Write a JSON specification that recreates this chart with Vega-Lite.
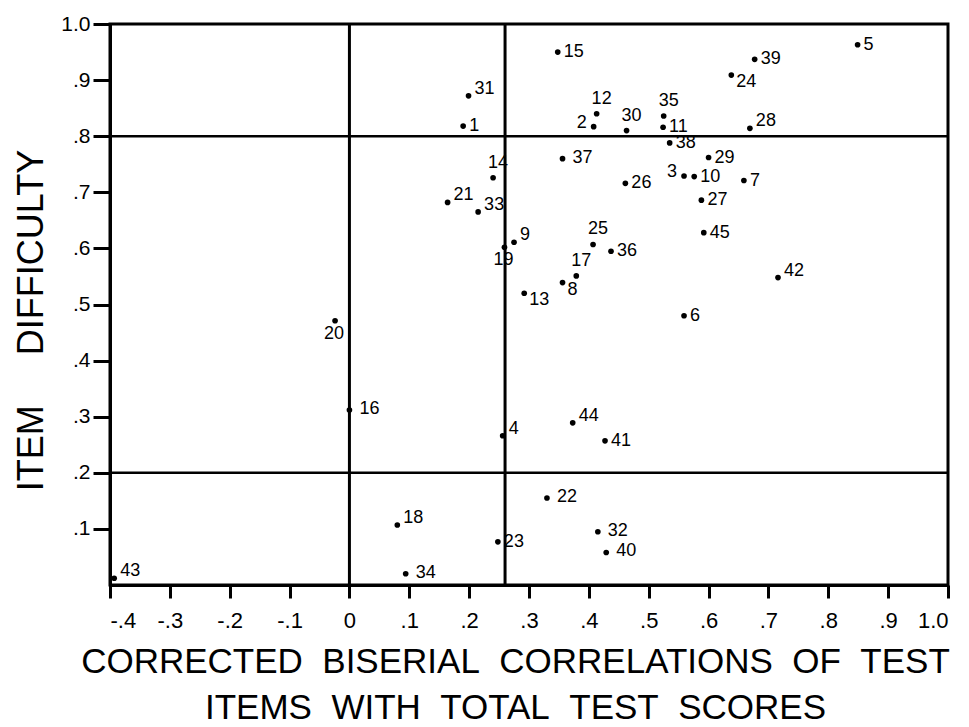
{
  "$schema": "https://vega.github.io/schema/vega-lite/v6.json",
  "width": 838,
  "height": 561,
  "autosize": "none",
  "padding": {"left": 110, "top": 24, "right": 21, "bottom": 142},
  "background": "white",
  "config": {
    "view": {"stroke": "black", "strokeWidth": 3},
    "font": "Liberation Sans",
    "axis": {"grid": false, "domainColor": "black", "domainWidth": 3, "tickColor": "black", "tickWidth": 3, "labelColor": "black", "titleColor": "black", "labelFont": "Liberation Sans", "titleFont": "Liberation Sans", "titleFontWeight": "normal"}
  },
  "datasets": {
    "items": [
      {"item": 1, "r": 0.190, "p": 0.818},
      {"item": 2, "r": 0.408, "p": 0.817},
      {"item": 3, "r": 0.559, "p": 0.729},
      {"item": 4, "r": 0.256, "p": 0.266},
      {"item": 5, "r": 0.849, "p": 0.963},
      {"item": 6, "r": 0.559, "p": 0.480},
      {"item": 7, "r": 0.659, "p": 0.721},
      {"item": 8, "r": 0.356, "p": 0.539},
      {"item": 9, "r": 0.275, "p": 0.611},
      {"item": 10, "r": 0.576, "p": 0.728},
      {"item": 11, "r": 0.524, "p": 0.816},
      {"item": 12, "r": 0.413, "p": 0.840},
      {"item": 13, "r": 0.292, "p": 0.520},
      {"item": 14, "r": 0.240, "p": 0.726},
      {"item": 15, "r": 0.348, "p": 0.950},
      {"item": 16, "r": 0.000, "p": 0.312},
      {"item": 17, "r": 0.379, "p": 0.551},
      {"item": 18, "r": 0.080, "p": 0.107},
      {"item": 19, "r": 0.259, "p": 0.602},
      {"item": 20, "r": -0.024, "p": 0.471},
      {"item": 21, "r": 0.164, "p": 0.682},
      {"item": 22, "r": 0.330, "p": 0.155},
      {"item": 23, "r": 0.248, "p": 0.077},
      {"item": 24, "r": 0.638, "p": 0.909},
      {"item": 25, "r": 0.407, "p": 0.607},
      {"item": 26, "r": 0.461, "p": 0.716},
      {"item": 27, "r": 0.588, "p": 0.686},
      {"item": 28, "r": 0.669, "p": 0.814},
      {"item": 29, "r": 0.600, "p": 0.762},
      {"item": 30, "r": 0.463, "p": 0.810},
      {"item": 31, "r": 0.199, "p": 0.872},
      {"item": 32, "r": 0.415, "p": 0.095},
      {"item": 33, "r": 0.215, "p": 0.665},
      {"item": 34, "r": 0.094, "p": 0.020},
      {"item": 35, "r": 0.525, "p": 0.836},
      {"item": 36, "r": 0.437, "p": 0.595},
      {"item": 37, "r": 0.356, "p": 0.760},
      {"item": 38, "r": 0.535, "p": 0.788},
      {"item": 39, "r": 0.677, "p": 0.937},
      {"item": 40, "r": 0.429, "p": 0.058},
      {"item": 41, "r": 0.427, "p": 0.257},
      {"item": 42, "r": 0.716, "p": 0.548},
      {"item": 43, "r": -0.393, "p": 0.012},
      {"item": 44, "r": 0.373, "p": 0.289},
      {"item": 45, "r": 0.592, "p": 0.628}
    ],
    "vlines": [{"v": 0}, {"v": 0.26}],
    "hlines": [{"h": 0.2}, {"h": 0.8}]
  },
  "layer": [
    {
      "data": {"name": "vlines"},
      "mark": {"type": "rule", "color": "black", "strokeWidth": 3},
      "encoding": {
        "x": {"field": "v", "type": "quantitative", "scale": {"domain": [-0.4, 1.0], "nice": false, "zero": false},
          "axis": {
            "values": [-0.4, -0.3, -0.2, -0.1, 0, 0.1, 0.2, 0.3, 0.4, 0.5, 0.6, 0.7, 0.8, 0.9, 1.0],
            "labelExpr": "datum.value == 0 ? '0' : (datum.value < 0 ? '-' : '') + replace(format(abs(datum.value), '.1f'), '0.', '.')",
            "tickSize": 13, "labelPadding": 12, "labelFontSize": 22,
            "title": ["CORRECTED\u00a0\u00a0BISERIAL\u00a0\u00a0CORRELATIONS\u00a0\u00a0OF\u00a0\u00a0TEST", "ITEMS\u00a0\u00a0WITH\u00a0\u00a0TOTAL\u00a0\u00a0TEST\u00a0\u00a0SCORES"],
            "titleFontSize": 35, "titleBaseline": "alphabetic", "titleX": 405, "titleAlign": "center", "titleY": 87, "titleLineHeight": 46
          }
        }
      }
    },
    {
      "data": {"name": "hlines"},
      "mark": {"type": "rule", "color": "black", "strokeWidth": 2.5},
      "encoding": {
        "y": {"field": "h", "type": "quantitative", "scale": {"domain": [0, 1.0], "nice": false},
          "axis": {
            "values": [0.1, 0.2, 0.3, 0.4, 0.5, 0.6, 0.7, 0.8, 0.9, 1.0],
            "labelExpr": "replace(format(datum.value, '.1f'), '0.', '.')",
            "tickSize": 17, "labelPadding": 3, "labelFontSize": 21,
            "title": "ITEM\u00a0\u00a0\u00a0\u00a0\u00a0DIFFICULTY",
            "titleFontSize": 36, "titleBaseline": "alphabetic", "titleX": -68, "titleY": 296, "titleAlign": "center"
          }
        }
      }
    },
    {
      "data": {"name": "items"},
      "mark": {"type": "point", "filled": true, "color": "black", "size": 32, "opacity": 1},
      "encoding": {
        "x": {"field": "r", "type": "quantitative"},
        "y": {"field": "p", "type": "quantitative"}
      }
    },
    {
      "data": {"name": "items"},
      "transform": [{"filter": "indexof([12,35,14,25,17,30,2,3,20,19,31,21,33,9,28,42,4,44,43,18,13,24,8,16,22,34,37,32,40], datum.item) < 0"}],
      "mark": {"type": "text", "align": "left", "baseline": "middle", "dx": 6, "dy": 0, "fontSize": 18, "font": "Liberation Sans", "color": "black"},
      "encoding": {"x": {"field": "r", "type": "quantitative"}, "y": {"field": "p", "type": "quantitative"}, "text": {"field": "item"}}
    },
    {
      "data": {"name": "items"},
      "transform": [{"filter": "indexof([16,22,34,37,32,40], datum.item) >= 0"}],
      "mark": {"type": "text", "align": "left", "baseline": "middle", "dx": 10, "dy": -1, "fontSize": 18, "font": "Liberation Sans", "color": "black"},
      "encoding": {"x": {"field": "r", "type": "quantitative"}, "y": {"field": "p", "type": "quantitative"}, "text": {"field": "item"}}
    },
    {
      "data": {"name": "items"},
      "transform": [{"filter": "indexof([31,21,33,9,28,42,4,44,43,18], datum.item) >= 0"}],
      "mark": {"type": "text", "align": "left", "baseline": "middle", "dx": 6, "dy": -7, "fontSize": 18, "font": "Liberation Sans", "color": "black"},
      "encoding": {"x": {"field": "r", "type": "quantitative"}, "y": {"field": "p", "type": "quantitative"}, "text": {"field": "item"}}
    },
    {
      "data": {"name": "items"},
      "transform": [{"filter": "indexof([13,24,8], datum.item) >= 0"}],
      "mark": {"type": "text", "align": "left", "baseline": "middle", "dx": 5, "dy": 7, "fontSize": 18, "font": "Liberation Sans", "color": "black"},
      "encoding": {"x": {"field": "r", "type": "quantitative"}, "y": {"field": "p", "type": "quantitative"}, "text": {"field": "item"}}
    },
    {
      "data": {"name": "items"},
      "transform": [{"filter": "indexof([12,35,14,25,17,30], datum.item) >= 0"}],
      "mark": {"type": "text", "align": "center", "baseline": "middle", "dx": 5, "dy": -15, "fontSize": 18, "font": "Liberation Sans", "color": "black"},
      "encoding": {"x": {"field": "r", "type": "quantitative"}, "y": {"field": "p", "type": "quantitative"}, "text": {"field": "item"}}
    },
    {
      "data": {"name": "items"},
      "transform": [{"filter": "indexof([2,3], datum.item) >= 0"}],
      "mark": {"type": "text", "align": "right", "baseline": "middle", "dx": -7, "dy": -4, "fontSize": 18, "font": "Liberation Sans", "color": "black"},
      "encoding": {"x": {"field": "r", "type": "quantitative"}, "y": {"field": "p", "type": "quantitative"}, "text": {"field": "item"}}
    },
    {
      "data": {"name": "items"},
      "transform": [{"filter": "indexof([20,19], datum.item) >= 0"}],
      "mark": {"type": "text", "align": "center", "baseline": "middle", "dx": -1, "dy": 13, "fontSize": 18, "font": "Liberation Sans", "color": "black"},
      "encoding": {"x": {"field": "r", "type": "quantitative"}, "y": {"field": "p", "type": "quantitative"}, "text": {"field": "item"}}
    }
  ]
}
